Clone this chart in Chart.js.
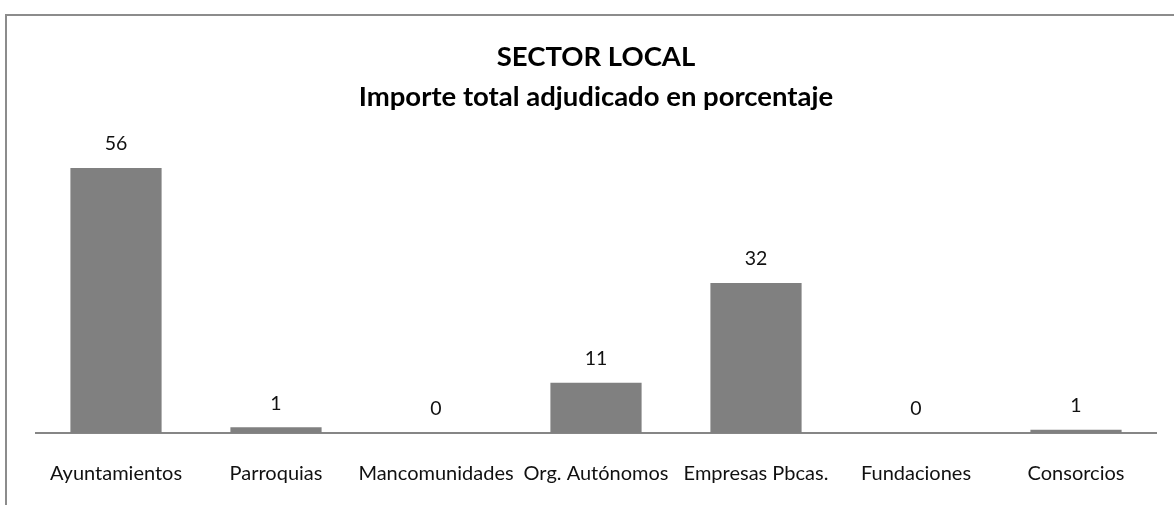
<!DOCTYPE html>
<html>
<head>
<meta charset="utf-8">
<script src="https://cdn.jsdelivr.net/npm/chart.js@4"></script>
<style>
  html, body { margin: 0; padding: 0; background: #fff; overflow: hidden; }
  #frame { position: absolute; left: 5px; top: 14px; width: 1300px; height: 600px;
           border-left: 2px solid #8c8c8c; border-top: 2px solid #8c8c8c; }
  #wrap { position: absolute; left: 0; top: 0; width: 1174px; height: 505px; }
</style>
</head>
<body>
<div id="frame"></div>
<div id="wrap"><canvas id="c"></canvas></div>
<script>
const categories = ['Ayuntamientos', 'Parroquias', 'Mancomunidades', 'Org. Autónomos', 'Empresas Pbcas.', 'Fundaciones', 'Consorcios'];
const percentages = [55.8, 1.2, 0, 10.6, 31.6, 0, 0.7];
const titleLines = ['SECTOR LOCAL', 'Importe total adjudicado en porcentaje'];

const FONT = 'Lato, "Open Sans", sans-serif';

const valueLabels = {
  id: 'valueLabels',
  afterDatasetsDraw(chart) {
    const ctx = chart.ctx;
    const meta = chart.getDatasetMeta(0);
    const data = chart.data.datasets[0].data;
    ctx.save();
    ctx.font = '19.5px ' + FONT;
    ctx.fillStyle = '#111';
    ctx.textAlign = 'center';
    ctx.textBaseline = 'middle';
    meta.data.forEach((bar, i) => {
      ctx.fillText(String(Math.round(data[i])), bar.x, bar.y - 24);
    });
    ctx.restore();
  }
};

new Chart(document.getElementById('c'), {
  type: 'bar',
  data: {
    labels: categories,
    datasets: [{
      data: percentages,
      backgroundColor: '#808080',
      borderWidth: 0,
      categoryPercentage: 1,
      barPercentage: 0.57
    }]
  },
  options: {
    responsive: true,
    maintainAspectRatio: false,
    animation: false,
    layout: { padding: { left: 36, right: 18, top: 0, bottom: 0 } },
    plugins: {
      legend: { display: false },
      tooltip: { enabled: false },
      title: {
        display: true,
        text: titleLines,
        color: '#000',
        font: { family: FONT, size: 27.5, weight: 'bold', lineHeight: '40px' },
        padding: { top: 37, bottom: 31 }
      }
    },
    scales: {
      x: {
        grid: { display: false, drawTicks: false },
        border: { display: true, color: '#868686', width: 2 },
        ticks: { color: '#111', font: { family: FONT, size: 20 }, padding: 29, maxRotation: 0, autoSkip: false },
        afterFit(scale) { scale.height = 72; }
      },
      y: {
        display: false,
        min: 0,
        max: 60
      }
    }
  },
  plugins: [valueLabels]
});
</script>
</body>
</html>
